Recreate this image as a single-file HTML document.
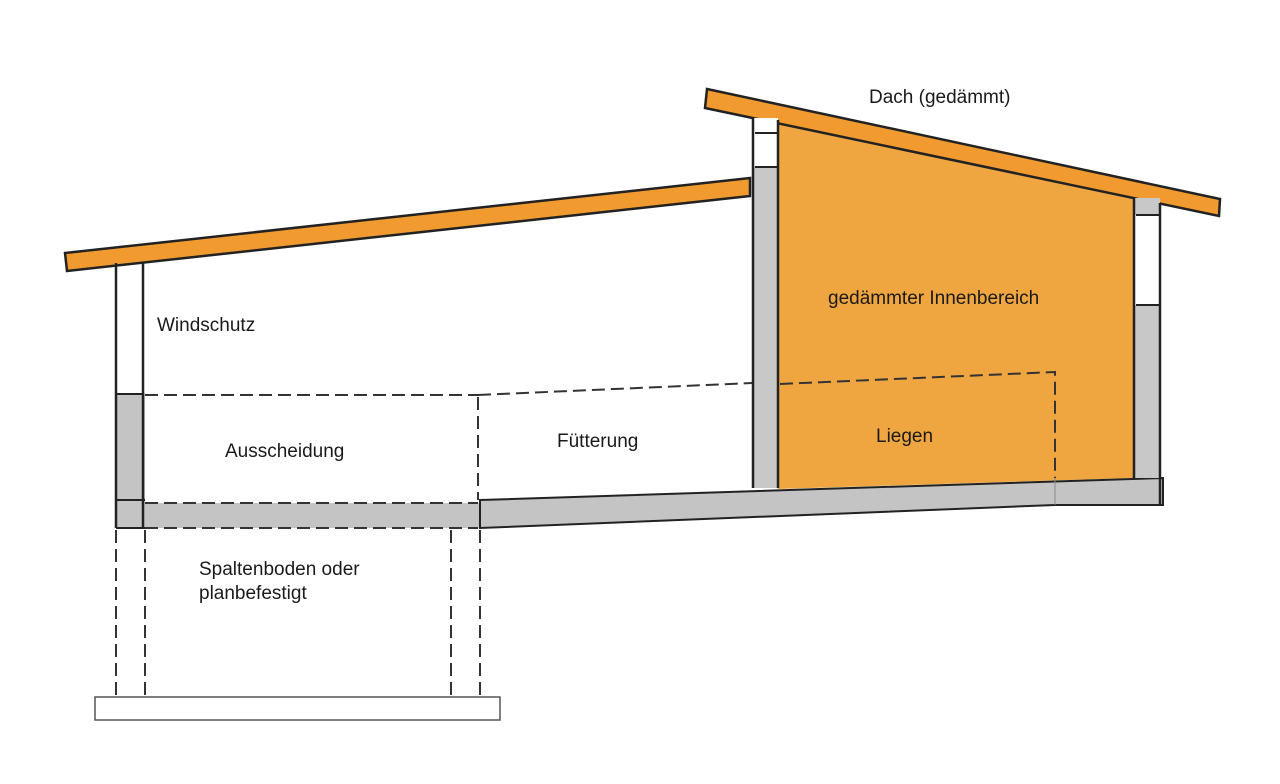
<!DOCTYPE html>
<html><head><meta charset="utf-8"><style>
body{margin:0;background:#fff}
svg text{font-family:"Liberation Sans",sans-serif;font-size:19px;fill:#1a1a1a}
</style></head><body>
<svg width="1280" height="779" viewBox="0 0 1280 779" xmlns="http://www.w3.org/2000/svg">
<!-- orange interior -->
<polygon points="778,121 1134,196 1134,478 778,489" fill="#f0a640"/>
<!-- right roof -->
<polygon points="707,89 1220,199 1219,216 705,108" fill="#f09a30" stroke="#222" stroke-width="2.5"/>
<!-- left roof -->
<polygon points="65,253 750,178 750,196 67,271" fill="#f09a30" stroke="#222" stroke-width="2.5"/>
<!-- left wall -->
<rect x="116" y="393" width="29" height="135" fill="#c4c4c4"/>
<line x1="116" y1="263" x2="116" y2="528" stroke="#222" stroke-width="2.5"/>
<line x1="143" y1="262" x2="143" y2="528" stroke="#222" stroke-width="2.5"/>
<line x1="116" y1="394" x2="143" y2="394" stroke="#222" stroke-width="2"/>
<line x1="116" y1="500" x2="145" y2="500" stroke="#222" stroke-width="2"/>
<line x1="116" y1="528" x2="145" y2="528" stroke="#222" stroke-width="2"/>
<!-- left floor -->
<rect x="145" y="503" width="335" height="25" fill="#c4c4c4"/>
<!-- right floor -->
<polygon points="480,500 1163,478 1163,505 1055,505 480,528" fill="#c4c4c4" stroke="#222" stroke-width="2"/>
<line x1="1055" y1="478" x2="1055" y2="505" stroke="#888" stroke-width="1"/>
<!-- right block walls -->
<rect x="753" y="120" width="25" height="368" fill="#c8c8c8"/>
<rect x="753" y="118" width="25" height="49" fill="#fff"/>
<line x1="753" y1="118" x2="753" y2="488" stroke="#222" stroke-width="2.5"/>
<line x1="778" y1="120" x2="778" y2="488" stroke="#222" stroke-width="2.5"/>
<line x1="755" y1="133" x2="778" y2="133" stroke="#222" stroke-width="2"/>
<line x1="755" y1="167" x2="778" y2="167" stroke="#222" stroke-width="2"/>
<rect x="1134" y="198" width="26" height="280" fill="#c8c8c8"/>
<rect x="1134" y="215" width="26" height="90" fill="#fff"/>
<line x1="1134" y1="197" x2="1134" y2="478" stroke="#222" stroke-width="2.5"/>
<line x1="1160" y1="203" x2="1160" y2="505" stroke="#222" stroke-width="2.5"/>
<line x1="1136" y1="215" x2="1160" y2="215" stroke="#222" stroke-width="2"/>
<line x1="1136" y1="305" x2="1160" y2="305" stroke="#222" stroke-width="2"/>
<!-- dashed lines -->
<g stroke="#333" stroke-width="2" stroke-dasharray="13,6" fill="none">
<line x1="145" y1="395" x2="478" y2="395"/>
<line x1="478" y1="395" x2="752" y2="383"/>
<line x1="478" y1="397" x2="478" y2="500"/>
<line x1="145" y1="503" x2="478" y2="503"/>
<line x1="145" y1="528" x2="478" y2="528"/>
<polyline points="780,384 1055,372 1055,478"/>
<line x1="116" y1="530" x2="116" y2="697"/>
<line x1="145" y1="530" x2="145" y2="697"/>
<line x1="451" y1="530" x2="451" y2="697"/>
<line x1="480" y1="530" x2="480" y2="697"/>
</g>
<rect x="95" y="697" width="405" height="23" fill="none" stroke="#555" stroke-width="1.5"/>
<!-- labels -->
<text x="869" y="103">Dach (gedämmt)</text>
<text x="157" y="331">Windschutz</text>
<text x="828" y="304">gedämmter Innenbereich</text>
<text x="225" y="457">Ausscheidung</text>
<text x="557" y="447">Fütterung</text>
<text x="876" y="442">Liegen</text>
<text x="199" y="575">Spaltenboden oder</text>
<text x="199" y="599">planbefestigt</text>
</svg>
</body></html>
